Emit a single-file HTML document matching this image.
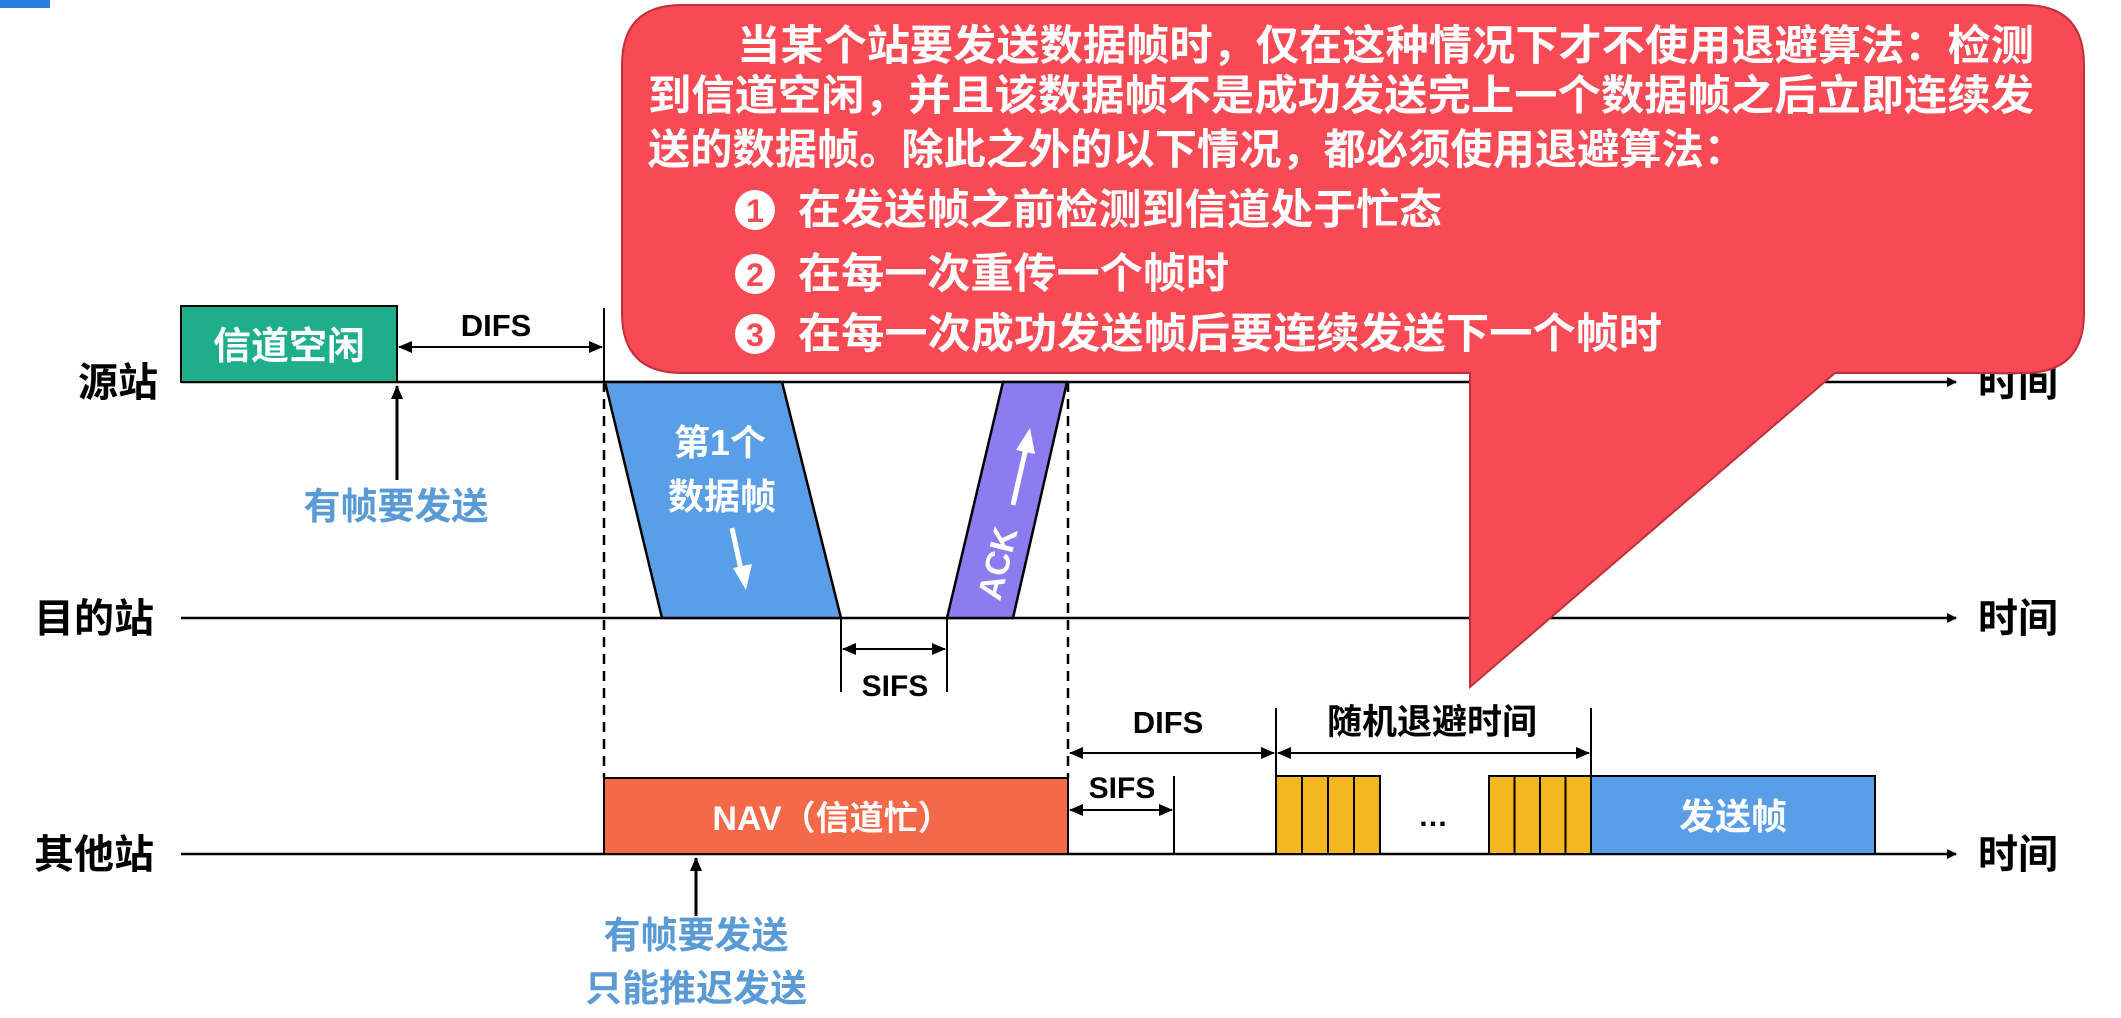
<!DOCTYPE html>
<html><head><meta charset="utf-8"><style>
html,body{margin:0;padding:0;background:#fff;}
svg{display:block}
text{font-family:"Liberation Sans","Noto Sans CJK SC",sans-serif;font-weight:bold;}
</style></head><body>
<svg width="2121" height="1018" viewBox="0 0 2121 1018" xmlns="http://www.w3.org/2000/svg">
<defs>
<marker id="ah" markerWidth="10" markerHeight="10" refX="9" refY="5" orient="auto" markerUnits="userSpaceOnUse" viewBox="0 0 10 10"><path d="M0,0 L10,5 L0,10 z" fill="#000"/></marker>
<marker id="ahs" markerWidth="14" markerHeight="14" refX="13" refY="7" orient="auto-start-reverse" markerUnits="userSpaceOnUse" viewBox="0 0 14 14"><path d="M0,1 L14,7 L0,13 z" fill="#000"/></marker>
</defs>
<rect x="0" y="0" width="50" height="8" fill="#2a7de1"/>
<line x1="181" y1="382" x2="1956" y2="382" stroke="#000" stroke-width="2.5" marker-end="url(#ah)"/>
<line x1="181" y1="618" x2="1956" y2="618" stroke="#000" stroke-width="2.5" marker-end="url(#ah)"/>
<line x1="181" y1="854" x2="1956" y2="854" stroke="#000" stroke-width="2.5" marker-end="url(#ah)"/>
<g font-size="40" fill="#000">
<text x="78" y="396">源站</text>
<text x="34" y="632">目的站</text>
<text x="34" y="868">其他站</text>
<text x="1978" y="396">时间</text>
<text x="1978" y="632">时间</text>
<text x="1978" y="868">时间</text>
</g>
<rect x="181" y="306" width="216" height="76" fill="#1fae8c" stroke="#000" stroke-width="2"/>
<text x="289" y="359" font-size="38" fill="#fff" text-anchor="middle">信道空闲</text>
<line x1="604" y1="308" x2="604" y2="382" stroke="#000" stroke-width="2"/>
<line x1="399" y1="347" x2="602" y2="347" stroke="#000" stroke-width="2" marker-start="url(#ahs)" marker-end="url(#ahs)"/>
<text x="496" y="336" font-size="31" text-anchor="middle">DIFS</text>
<line x1="397" y1="480" x2="397" y2="386" stroke="#000" stroke-width="3" marker-end="url(#ahs)"/>
<text x="396" y="519" font-size="37" fill="#5b9bd5" text-anchor="middle">有帧要发送</text>
<line x1="604" y1="382" x2="604" y2="778" stroke="#000" stroke-width="2.5" stroke-dasharray="10,7"/>
<line x1="1068" y1="382" x2="1068" y2="778" stroke="#000" stroke-width="2.5" stroke-dasharray="10,7"/>
<polygon points="605,382 782,382 841,618 662,618" fill="#5b9ee8" stroke="#000" stroke-width="2.5"/>
<text x="720" y="455" font-size="36" fill="#fff" text-anchor="middle">第1个</text>
<text x="722" y="509" font-size="36" fill="#fff" text-anchor="middle">数据帧</text>
<line x1="732" y1="528" x2="741" y2="570" stroke="#fff" stroke-width="5"/>
<polygon points="733,568 752,564 746,590" fill="#fff"/>
<polygon points="1003,382 1067,382 1013,618 947,618" fill="#8b7cef" stroke="#000" stroke-width="2.5"/>
<text transform="translate(1000,602) rotate(-76)" font-size="34" fill="#fff">ACK</text>
<line x1="1013" y1="505" x2="1026" y2="448" stroke="#fff" stroke-width="5"/>
<polygon points="1016,450 1035,454 1030,428" fill="#fff"/>
<line x1="841" y1="618" x2="841" y2="692" stroke="#000" stroke-width="2"/>
<line x1="947" y1="618" x2="947" y2="692" stroke="#000" stroke-width="2"/>
<line x1="843" y1="649" x2="945" y2="649" stroke="#000" stroke-width="2" marker-start="url(#ahs)" marker-end="url(#ahs)"/>
<text x="895" y="696" font-size="30" text-anchor="middle">SIFS</text>
<rect x="604" y="778" width="464" height="76" fill="#f4694a" stroke="#000" stroke-width="2"/>
<text x="832" y="830" font-size="34" fill="#fff" text-anchor="middle">NAV（信道忙）</text>
<line x1="696" y1="916" x2="696" y2="858" stroke="#000" stroke-width="3" marker-end="url(#ahs)"/>
<text x="696" y="948" font-size="37" fill="#5b9bd5" text-anchor="middle">有帧要发送</text>
<text x="696" y="1001" font-size="37" fill="#5b9bd5" text-anchor="middle">只能推迟发送</text>
<line x1="1174" y1="776" x2="1174" y2="854" stroke="#000" stroke-width="2"/>
<line x1="1070" y1="810" x2="1172" y2="810" stroke="#000" stroke-width="2" marker-start="url(#ahs)" marker-end="url(#ahs)"/>
<text x="1122" y="798" font-size="30" text-anchor="middle">SIFS</text>
<line x1="1276" y1="708" x2="1276" y2="854" stroke="#000" stroke-width="2"/>
<line x1="1591" y1="708" x2="1591" y2="776" stroke="#000" stroke-width="2"/>
<line x1="1070" y1="753" x2="1274" y2="753" stroke="#000" stroke-width="2" marker-start="url(#ahs)" marker-end="url(#ahs)"/>
<text x="1168" y="733" font-size="31" text-anchor="middle">DIFS</text>
<line x1="1278" y1="753" x2="1589" y2="753" stroke="#000" stroke-width="2" marker-start="url(#ahs)" marker-end="url(#ahs)"/>
<text x="1432" y="734" font-size="35" text-anchor="middle">随机退避时间</text>
<g fill="#f4b71f" stroke="#000" stroke-width="2">
<rect x="1276" y="776" width="26" height="78"/><rect x="1302" y="776" width="26" height="78"/><rect x="1328" y="776" width="26" height="78"/><rect x="1354" y="776" width="26" height="78"/>
<rect x="1489" y="776" width="25.5" height="78"/><rect x="1514.5" y="776" width="25.5" height="78"/><rect x="1540" y="776" width="25.5" height="78"/><rect x="1565.5" y="776" width="25.5" height="78"/>
</g>
<text x="1433" y="826" font-size="30" text-anchor="middle">…</text>
<rect x="1591" y="776" width="284" height="78" fill="#5b9ee8" stroke="#000" stroke-width="2"/>
<text x="1733" y="829" font-size="36" fill="#fff" text-anchor="middle">发送帧</text>
<path d="M682,5 L2024,5 Q2084,5 2084,65 L2084,313 Q2084,373 2024,373 L1835,373 L1470,687 L1470,373 L682,373 Q622,373 622,313 L622,65 Q622,5 682,5 Z" fill="#f74a54" stroke="#c0303a" stroke-width="2"/>
<g font-size="42" fill="#fff">
<text x="737" y="60" textLength="1297" lengthAdjust="spacingAndGlyphs">当某个站要发送数据帧时，仅在这种情况下才不使用退避算法：检测</text>
<text x="648" y="110" textLength="1386" lengthAdjust="spacingAndGlyphs">到信道空闲，并且该数据帧不是成功发送完上一个数据帧之后立即连续发</text>
<text x="648" y="164" textLength="1098" lengthAdjust="spacingAndGlyphs">送的数据帧。除此之外的以下情况，都必须使用退避算法：</text>
<text x="798" y="224" textLength="644" lengthAdjust="spacingAndGlyphs">在发送帧之前检测到信道处于忙态</text>
<text x="798" y="288" textLength="431" lengthAdjust="spacingAndGlyphs">在每一次重传一个帧时</text>
<text x="798" y="348" textLength="864" lengthAdjust="spacingAndGlyphs">在每一次成功发送帧后要连续发送下一个帧时</text>
</g>
<g>
<circle cx="755" cy="210" r="20" fill="#fff"/><text x="755" y="222" font-size="32" fill="#f74a54" text-anchor="middle" font-family="Liberation Serif,serif">1</text>
<circle cx="755" cy="274" r="20" fill="#fff"/><text x="755" y="286" font-size="32" fill="#f74a54" text-anchor="middle" font-family="Liberation Serif,serif">2</text>
<circle cx="755" cy="334" r="20" fill="#fff"/><text x="755" y="346" font-size="32" fill="#f74a54" text-anchor="middle" font-family="Liberation Serif,serif">3</text>
</g>
</svg>
</body></html>
